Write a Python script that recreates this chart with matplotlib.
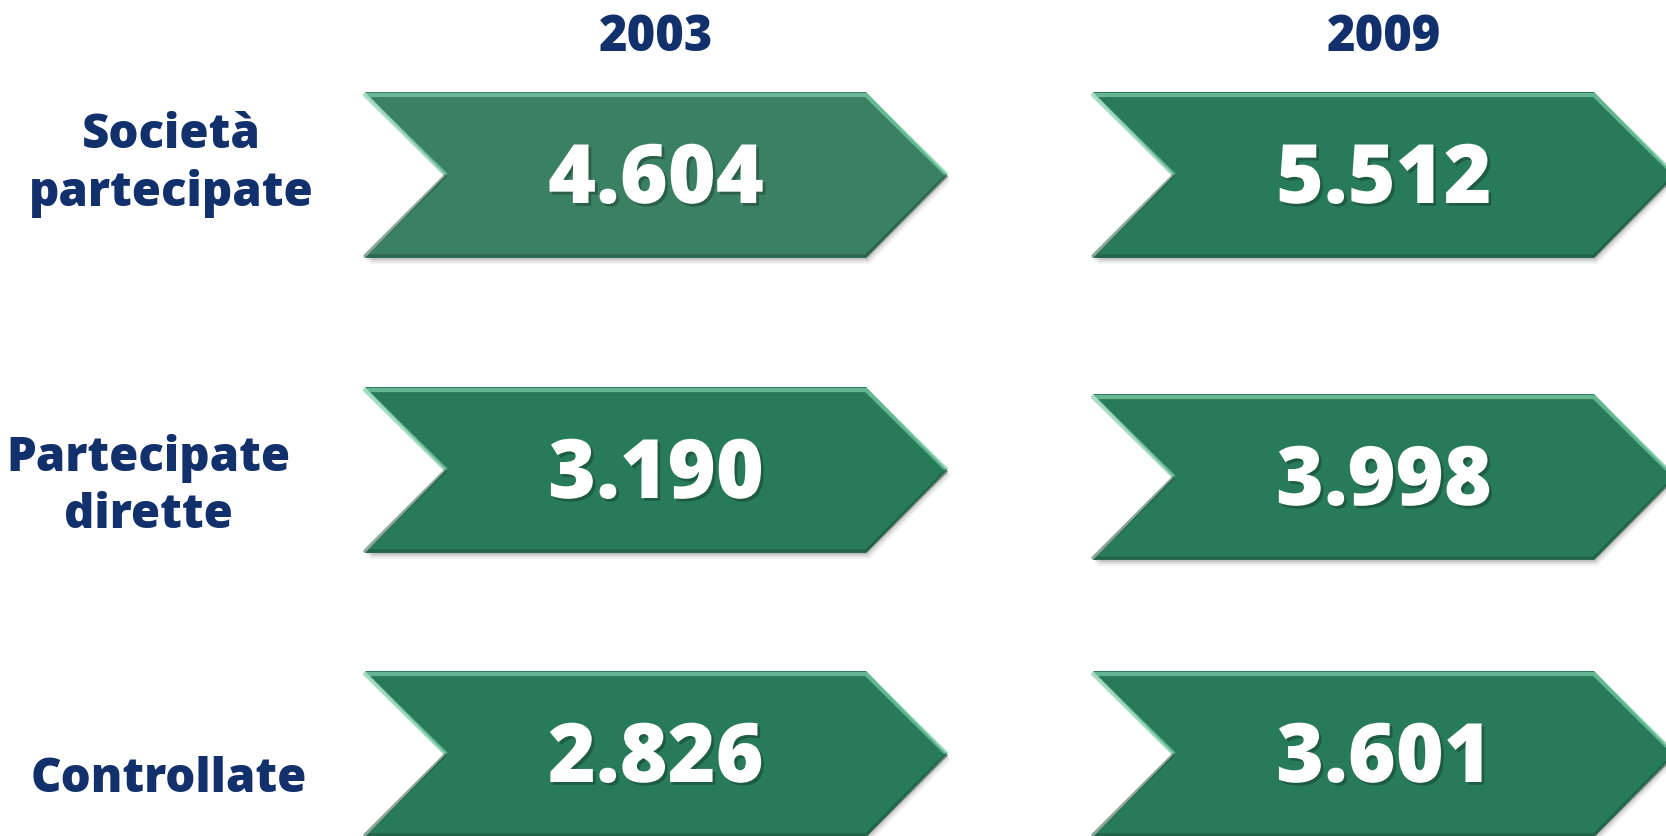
import numpy as np
import matplotlib
matplotlib.use("Agg")
import matplotlib.pyplot as plt
from matplotlib.patches import Polygon
import matplotlib.patheffects as pe

# data
years = ["2003", "2009"]
categories = ["Società\npartecipate", "Partecipate\ndirette", "Controllate"]
values_2003 = ["4.604", "3.190", "2.826"]
values_2009 = ["5.512", "3.998", "3.601"]

# layout (pixel space, y downwards)
W, H = 1666, 836
col_left = [365, 1093]
arrow_w, arrow_h, notch = 582, 166, 81
row_mid = [[175, 470, 754], [175, 477, 754]]
label_x = [171, 148, 169]
label_y = [165, 487, 780]
navy = "#12306b"
fills = [["#3a8063", "#287b5a", "#287b5a"], ["#287b5a", "#287b5a", "#287b5a"]]
font = ["Open Sans", "DejaVu Sans"]

fig = plt.figure(figsize=(W / 100, H / 100), dpi=100)
ax = fig.add_axes([0, 0, 1, 1])
ax.set_xlim(0, W)
ax.set_ylim(H, 0)
ax.axis("off")


def chevron(x0, yc):
    t, b = yc - arrow_h / 2, yc + arrow_h / 2
    return np.array([(x0, t), (x0 + arrow_w - notch, t), (x0 + arrow_w, yc),
                     (x0 + arrow_w - notch, b), (x0, b), (x0 + notch, yc)])


for c, vals in enumerate([values_2003, values_2009]):
    x0 = col_left[c]
    cx = x0 + arrow_w / 2
    ax.text(cx, 38, years[c], ha="center", va="center", fontsize=35,
            fontweight="heavy", color=navy, family=font)
    for r, v in enumerate(vals):
        yc = row_mid[c][r]
        pts = chevron(x0, yc)
        # soft shadow
        for k, a in [(6, 0.05), (4, 0.08), (2, 0.12)]:
            ax.add_patch(Polygon(pts + [k * 0.6, k], closed=True, fc="black",
                                 ec="none", alpha=a, zorder=1))
        ax.add_patch(Polygon(pts, closed=True, fc=fills[c][r], ec="none", zorder=2))
        # bevel: top highlight, bottom dark
        ax.plot(pts[[5, 0, 1, 2], 0], pts[[5, 0, 1, 2], 1] + np.array([0, 3, 3, 0]),
                color="#7fd0aa", lw=3, alpha=0.7, zorder=3, solid_capstyle="butt")
        ax.plot(pts[[2, 3, 4, 5], 0], pts[[2, 3, 4, 5], 1] - np.array([0, 2, 2, 0]),
                color="#1c4f3a", lw=2.5, alpha=0.5, zorder=3, solid_capstyle="butt")
        ax.text(cx, yc + 7, v, ha="center", va="center", fontsize=59,
                fontweight="heavy", color="white", zorder=4, family=font,
                path_effects=[pe.withSimplePatchShadow(offset=(2, -2),
                                                      shadow_rgbFace="black", alpha=0.25)])

for r, lab in enumerate(categories):
    ax.text(label_x[r], label_y[r], lab, ha="center", va="center", fontsize=34,
            fontweight="heavy", color=navy, linespacing=1.27, family=font)

fig.savefig("out.png", dpi=100)
